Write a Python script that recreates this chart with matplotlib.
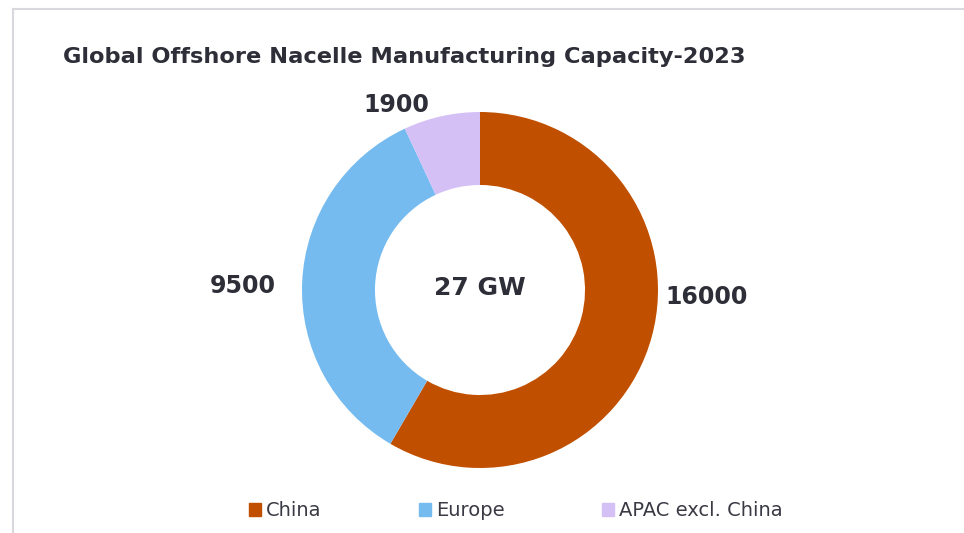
import matplotlib
matplotlib.use("Agg")
import numpy as np
from matplotlib import pyplot as plt
from matplotlib import patches as ptc
from matplotlib.lines import Line2D

regions = ["China", "Europe", "APAC excl. China"]
capacity = [16000, 9500, 1900]
total_label = "27 GW"
title = "Global Offshore Nacelle Manufacturing Capacity-2023"

colors = ["#C05000", "#75BBF0", "#D5C0F6"]
dark = "#2E2E38"

plt.rcParams['font.family'] = ['DejaVu Sans']

fig = plt.figure(figsize=(9.64, 5.33), dpi=100)
W, H = 964, 533
cx, cy, R = 480, 290, 178
ax = fig.add_axes([(cx - R) / W, (H - cy - R) / H, 2 * R / W, 2 * R / H])

wedges, _ = ax.pie(capacity, colors=colors, startangle=90, counterclock=False,
                   radius=1.0, wedgeprops=dict(width=0.41, linewidth=0))
ax.set_xlim(-1, 1)
ax.set_ylim(-1, 1)
ax.axis('off')

# value labels, placed like Excel's outside-end labels
label_pos = [(1.275, -0.04), (-1.335, 0.02), (-0.47, 1.04)]
for v, (lx, ly) in zip(capacity, label_pos):
    ax.text(lx, ly, f"{v}", ha='center', va='center', fontsize=17,
            fontweight='bold', color=dark)

ax.text(0, 0.01, total_label, ha='center', va='center', fontsize=18,
        fontweight='bold', color=dark)

fig.text(63 / W, 1 - 57 / H, title, ha='left', va='center', fontsize=16.2,
         fontweight='bold', color=dark)

handles = [ptc.Patch(color=c) for c in colors]
fig.legend(handles, regions, loc='center', bbox_to_anchor=(0.535, 1 - 511 / H),
           ncol=3, frameon=False, fontsize=14, handlelength=0.62,
           handleheight=0.62, handletextpad=0.25, columnspacing=5.0,
           labelcolor="#3A3A45")

# chart frame (top and left edges visible)
fig.add_artist(Line2D([13 / W, 1], [1 - 9 / H, 1 - 9 / H], color="#D8D8DE", lw=1.5))
fig.add_artist(Line2D([13 / W, 13 / W], [0, 1 - 9 / H], color="#D8D8DE", lw=1.5))

fig.savefig("out.png", dpi=100)
